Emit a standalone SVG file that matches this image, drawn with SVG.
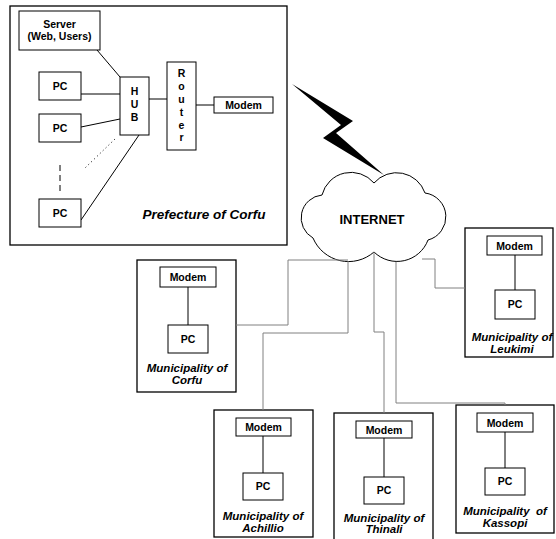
<svg xmlns="http://www.w3.org/2000/svg" width="556" height="539" viewBox="0 0 556 539">
<style>
.box{fill:#fff;stroke:#000;stroke-width:1.3}
.in{fill:#fff;stroke:#000;stroke-width:1}
.ln{stroke:#000;stroke-width:1;fill:none}
.cn{stroke:#808080;stroke-width:1;fill:none}
text{font-family:"Liberation Sans",Arial,sans-serif;font-weight:bold;fill:#000;text-anchor:middle}
.lb{font-size:10.5px}
.it{font-style:italic;font-size:11.5px}
</style>
<rect width="556" height="539" fill="#fff"/>
<g id="prefecture">
<rect class="box" x="10" y="6" width="277" height="239"/>
<text class="it" x="204" y="219" style="font-size:13.5px">Prefecture of Corfu</text>
</g>
<g id="lightning"><polygon points="292,84 353,121 336,133 384,175 323,138 341,125" fill="#000"/></g>
<g id="internet">
<path d="M374 183 A30 30 0 0 1 425 193 A24 24 0 0 1 428 240 A33 33 0 0 1 374 252 A38.6 38.6 0 0 1 313 238 A23 23 0 0 1 322 195 A30 30 0 0 1 374 183 Z" fill="#fff" stroke="#000" stroke-width="1"/>
<text x="372" y="224" style="font-size:13px">INTERNET</text>
</g>
<g id="mun-corfu"><rect class="box" x="137" y="260" width="99" height="132"/>
<text class="it" x="187" y="372">Municipality of</text><text class="it" x="187" y="384">Corfu</text></g>
<g id="mun-leukimi"><rect class="box" x="465" y="228" width="88" height="129"/>
<text class="it" x="512" y="341">Municipality of</text><text class="it" x="512" y="353">Leukimi</text></g>
<g id="mun-achillio"><rect class="box" x="214" y="410" width="99" height="127"/>
<text class="it" x="263" y="520">Municipality of</text><text class="it" x="263" y="532">Achillio</text></g>
<g id="mun-thinali"><rect class="box" x="334" y="413" width="99" height="130"/>
<text class="it" x="384" y="522">Municipality of</text><text class="it" x="384" y="533">Thinali</text></g>
<g id="mun-kassopi"><rect class="box" x="456" y="405" width="98" height="128"/>
<text class="it" x="505" y="515" xml:space="preserve">Municipality  of</text><text class="it" x="505" y="527">Kassopi</text></g>
<g id="connectors">
<line class="ln" x1="97" y1="50" x2="120" y2="77"/>
<line class="ln" x1="81" y1="94" x2="120" y2="94"/>
<line class="ln" x1="81" y1="127" x2="120" y2="119"/>
<line class="ln" x1="115" y1="139" x2="85" y2="168" stroke-dasharray="1 3"/>
<line class="ln" x1="60" y1="165" x2="60" y2="193" stroke-dasharray="6 4"/>
<line class="ln" x1="81" y1="220" x2="139" y2="135"/>
<line class="ln" x1="149" y1="99" x2="167" y2="99"/>
<line class="ln" x1="196" y1="105" x2="214" y2="105"/>
<path class="cn" d="M236 325 H288 V260 H348"/>
<path class="cn" d="M348 261 V333 H263 V410"/>
<path class="cn" d="M374 252 V332 H384 V413"/>
<path class="cn" d="M396 262 V403 H505 V405"/>
<path class="cn" d="M422 259 H435 V288 H465"/>
<line class="ln" x1="188" y1="287" x2="188" y2="325"/>
<line class="ln" x1="515" y1="255" x2="515" y2="290"/>
<line class="ln" x1="263" y1="436" x2="263" y2="473"/>
<line class="ln" x1="384" y1="438" x2="384" y2="477"/>
<line class="ln" x1="505" y1="432" x2="505" y2="468"/>
</g>
<g id="server"><rect class="in" x="19" y="11" width="81" height="39"/>
<text class="lb" x="59.5" y="28">Server</text><text class="lb" x="59.5" y="40">(Web, Users)</text></g>
<g id="pc1"><rect class="in" x="39" y="72" width="42" height="28"/><text class="lb" x="60" y="90">PC</text></g>
<g id="pc2"><rect class="in" x="39" y="114" width="42" height="28"/><text class="lb" x="60" y="132">PC</text></g>
<g id="pc3"><rect class="in" x="39" y="199" width="42" height="28"/><text class="lb" x="60" y="217">PC</text></g>
<g id="hub"><rect class="in" x="120" y="77" width="29" height="58"/>
<text class="lb" x="134.5" y="95">H</text><text class="lb" x="134.5" y="108">U</text><text class="lb" x="134.5" y="121">B</text></g>
<g id="router"><rect class="in" x="167" y="62" width="29" height="88"/>
<text class="lb" x="181.5" y="77">R</text><text class="lb" x="181.5" y="90">o</text><text class="lb" x="181.5" y="103">u</text><text class="lb" x="181.5" y="116">t</text><text class="lb" x="181.5" y="129">e</text><text class="lb" x="181.5" y="141">r</text></g>
<g id="modem0"><rect class="in" x="214" y="97" width="59" height="16"/><text class="lb" x="243.5" y="109">Modem</text></g>
<g id="corfu-modem"><rect class="in" x="160" y="267" width="56" height="20"/><text class="lb" x="188" y="281">Modem</text></g>
<g id="corfu-pc"><rect class="in" x="168" y="325" width="40" height="28"/><text class="lb" x="188" y="343">PC</text></g>
<g id="leukimi-modem"><rect class="in" x="487" y="236" width="55" height="19"/><text class="lb" x="514.5" y="250">Modem</text></g>
<g id="leukimi-pc"><rect class="in" x="495" y="290" width="40" height="29"/><text class="lb" x="515" y="308">PC</text></g>
<g id="achillio-modem"><rect class="in" x="236" y="418" width="55" height="18"/><text class="lb" x="263.5" y="431">Modem</text></g>
<g id="achillio-pc"><rect class="in" x="243" y="473" width="40" height="27"/><text class="lb" x="263" y="490">PC</text></g>
<g id="thinali-modem"><rect class="in" x="356" y="421" width="56" height="17"/><text class="lb" x="384" y="433.5">Modem</text></g>
<g id="thinali-pc"><rect class="in" x="364" y="477" width="40" height="27"/><text class="lb" x="384" y="494">PC</text></g>
<g id="kassopi-modem"><rect class="in" x="477" y="413" width="56" height="19"/><text class="lb" x="505" y="426.5">Modem</text></g>
<g id="kassopi-pc"><rect class="in" x="485" y="468" width="40" height="27"/><text class="lb" x="505" y="485">PC</text></g>
</svg>
